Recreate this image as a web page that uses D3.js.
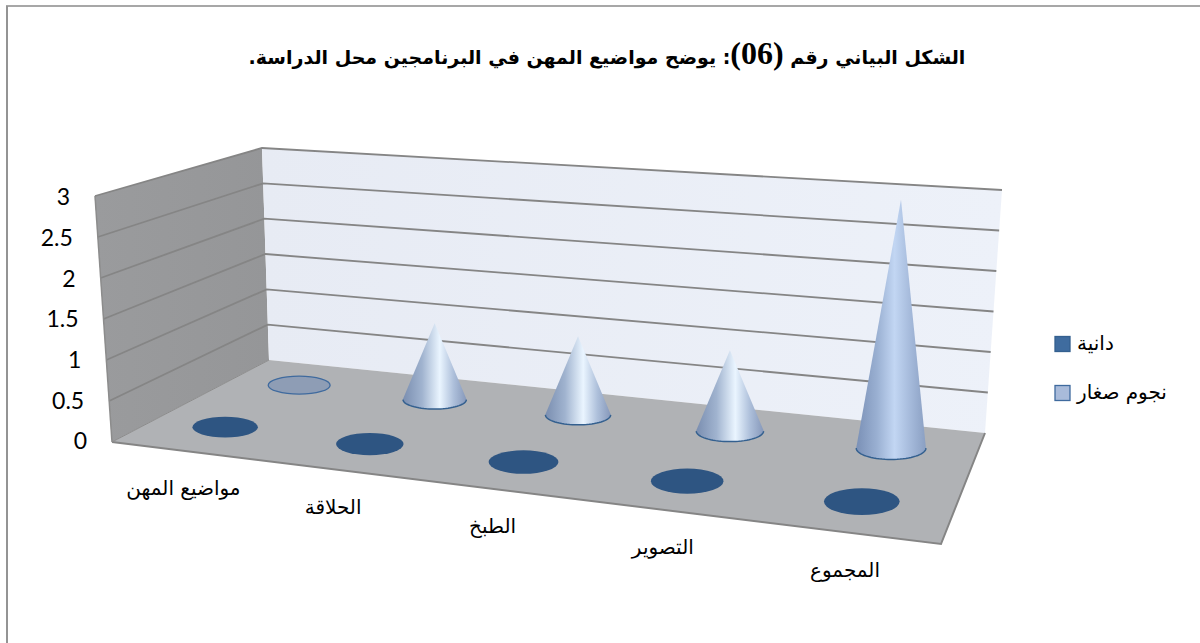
<!DOCTYPE html>
<html lang="ar">
<head>
<meta charset="utf-8">
<script src="https://cdn.jsdelivr.net/npm/d3@7"></script>
<style>
  html, body { margin: 0; padding: 0; background: #fff; }
  svg { display: block; }
</style>
</head>
<body>
<div id="chart"></div>
<script>
// chart data
const titleBefore = "الشكل البياني رقم ";
const titleNumber = "(06)";
const titleAfter = ": يوضح مواضيع المهن في البرنامجين محل الدراسة.";
const categories = ["مواضيع المهن", "الحلاقة", "الطبخ", "التصوير", "المجموع"];
const seriesNames = ["دانية", "نجوم صغار"];
const daniaValues = [0, 0, 0, 0, 0];
const starsValues = [0, 1, 1, 1, 3];
const yTicks = [0, 0.5, 1, 1.5, 2, 2.5, 3];

const width = 1200;
const height = 643;
const yMax = 3;

// corners of the 3d box on screen
const floorCorners = [[112, 442], [985, 433], [269, 360], [941, 544]]; // fl, br, bl, fr
const topCorners = [[95, 196], [1002, 190], [262, 148], [966, 262]];

const svg = d3
  .select("#chart")
  .append("svg")
  .attr("width", width)
  .attr("height", height);

// maps unit square to a screen quad
// corners order: (0,0) (1,1) (0,1) (1,0)
function makeHomography(c) {
  const [p00, p11, p01, p10] = c;
  const dx1 = p10[0] - p11[0];
  const dx2 = p01[0] - p11[0];
  const dy1 = p10[1] - p11[1];
  const dy2 = p01[1] - p11[1];
  const sx = p00[0] - p10[0] + p11[0] - p01[0];
  const sy = p00[1] - p10[1] + p11[1] - p01[1];
  const det = dx1 * dy2 - dx2 * dy1;
  const g = (sx * dy2 - dx2 * sy) / det;
  const h = (dx1 * sy - sx * dy1) / det;
  const a = p10[0] - p00[0] + g * p10[0];
  const b = p01[0] - p00[0] + h * p01[0];
  const d = p10[1] - p00[1] + g * p10[1];
  const e = p01[1] - p00[1] + h * p01[1];
  return (u, v) => {
    const w = g * u + h * v + 1;
    return [(a * u + b * v + p00[0]) / w, (d * u + e * v + p00[1]) / w];
  };
}

const floorAt = makeHomography(floorCorners);
const topAt = makeHomography(topCorners);

const xScale = d3.scaleBand().domain(categories).range([0, 1]);
const depthScale = d3.scaleBand().domain(seriesNames).range([0, 1]);
const valueScale = d3.scaleLinear().domain([0, yMax]).range([0, 1]);

// u = along categories, v = depth, value = height
function project(u, v, value) {
  const f = floorAt(u, v);
  const t = topAt(u, v);
  const k = valueScale(value);
  return [f[0] + (t[0] - f[0]) * k, f[1] + (t[1] - f[1]) * k];
}

const polyPath = (pts) => "M" + pts.map((p) => p.join(",")).join("L") + "Z";

// frame
svg.append("path")
  .attr("d", `M${width},6H6`)
  .attr("fill", "none")
  .attr("stroke", "#8a8a8a")
  .attr("stroke-width", 1.5);
svg.append("path")
  .attr("d", `M7,6V${height}`)
  .attr("fill", "none")
  .attr("stroke", "#949494")
  .attr("stroke-width", 2);

// gradients
const defs = svg.append("defs");

function addGradient(id, stops) {
  const g = defs.append("linearGradient")
    .attr("id", id)
    .attr("x1", 0).attr("x2", 1)
    .attr("y1", 0).attr("y2", 0);
  g.selectAll("stop").data(stops).enter().append("stop")
    .attr("offset", (d) => d[0])
    .attr("stop-color", (d) => d[1]);
}

addGradient("coneSmall", [[0, "#7a8eb0"], [0.3, "#a0b3cf"], [0.58, "#eaf5ff"], [0.8, "#adbfda"], [1, "#8698ba"]]);
addGradient("coneBig", [[0, "#7a90b6"], [0.3, "#9ab0d2"], [0.55, "#c2d6f3"], [0.8, "#a2b7d8"], [1, "#8a9fc2"]]);
addGradient("leftWall", [[0, "#9a9b9d"], [1, "#959698"]]);
addGradient("backWall", [[0, "#e7ebf4"], [1, "#edf1f9"]]);

// walls and floor
svg.append("path")
  .attr("d", polyPath([project(0, 0, 0), project(0, 1, 0), project(0, 1, yMax), project(0, 0, yMax)]))
  .attr("fill", "url(#leftWall)");
svg.append("path")
  .attr("d", polyPath([project(0, 1, 0), project(1, 1, 0), project(1, 1, yMax), project(0, 1, yMax)]))
  .attr("fill", "url(#backWall)");
svg.append("path")
  .attr("d", polyPath([project(0, 0, 0), project(0, 1, 0), project(1, 1, 0), project(1, 0, 0)]))
  .attr("fill", "#b0b2b5");

// gridlines on both walls
const line = d3.line();
const gridG = svg.append("g")
  .attr("fill", "none")
  .attr("stroke", "#858585")
  .attr("stroke-width", 1.8);
gridG.selectAll(".grid")
  .data(yTicks.filter((d) => d > 0))
  .enter()
  .append("path")
  .attr("class", "grid")
  .attr("d", (d) => line([project(0, 0, d), project(0, 1, d), project(1, 1, d)]));

// outline of the floor edge
svg.append("path")
  .attr("d", line([project(0, 0, 0), project(1, 0, 0), project(1, 1, 0)]))
  .attr("fill", "none")
  .attr("stroke", "#858585")
  .attr("stroke-width", 2);
svg.append("path")
  .attr("d", line([project(0, 0, 0), project(0, 1, 0)]))
  .attr("fill", "none")
  .attr("stroke", "#8c8c8c")
  .attr("stroke-width", 1);
svg.append("path")
  .attr("d", line([project(0, 0, 0), project(0, 0, yMax)]))
  .attr("fill", "none")
  .attr("stroke", "#8c8c8c")
  .attr("stroke-width", 1.5);

// y axis labels, the axis leans with the front edge of the left wall
const yLabelScale = d3.scaleLinear().domain([0, yMax]).range([442, 198]);
const yLabelX = d3.scaleLinear().domain([0, yMax]).range([87, 70]);
const yAxis = svg.append("g")
  .call(d3.axisLeft(yLabelScale).tickValues(yTicks).tickSize(0).tickPadding(0).tickFormat((d) => d));
yAxis.select(".domain").remove();
yAxis.selectAll(".tick")
  .attr("transform", (d) => `translate(${yLabelX(d)},${yLabelScale(d)})`);
yAxis.selectAll("text")
  .attr("font-family", "Lato")
  .attr("font-size", 23)
  .attr("fill", "#000");

// base size of a cone on the floor
function baseSize(u, v) {
  const du = 0.0415;
  const dv = 0.115;
  // discs stay wider on the left than the perspective alone gives
  const rx = (floorAt(u + du, v)[0] - floorAt(u - du, v)[0]) / 2 + (1 - u) * 4;
  const ry = (floorAt(u, v - dv)[1] - floorAt(u, v + dv)[1]) / 2;
  return [rx, ry];
}

const seriesList = [
  { name: seriesNames[1], values: starsValues, fill: "#8e9db5", stroke: "#3f6a9e" },
  { name: seriesNames[0], values: daniaValues, fill: "#2e5582", stroke: "none" },
];

// back series first
seriesList.forEach((s) => {
  const v = depthScale(s.name) + depthScale.bandwidth() / 2;
  const g = svg.append("g").attr("class", "series");

  const rows = categories.map((c, i) => {
    const u = xScale(c) + xScale.bandwidth() / 2;
    const [rx, ry] = baseSize(u, v);
    return { u, v, rx, ry, value: s.values[i], center: floorAt(u, v) };
  });

  // zero values only show as a flat disc
  g.selectAll("ellipse")
    .data(rows.filter((d) => d.value === 0))
    .enter()
    .append("ellipse")
    .attr("cx", (d) => d.center[0])
    .attr("cy", (d) => d.center[1])
    .attr("rx", (d) => d.rx)
    .attr("ry", (d) => d.ry)
    .attr("fill", s.fill)
    .attr("stroke", s.stroke)
    .attr("stroke-width", 1.3);

  const cones = g.selectAll(".cone")
    .data(rows.filter((d) => d.value > 0))
    .enter()
    .append("g")
    .attr("class", "cone");

  const ellipsePoint = (d, t) => [
    d.center[0] + d.rx * Math.cos(t),
    d.center[1] + d.ry * Math.sin(t),
  ];

  cones.append("path")
    .attr("d", (d) => {
      const pts = d3.range(0, 72).map((k) => ellipsePoint(d, (k / 72) * 2 * Math.PI));
      const tip = project(d.u, d.v, d.value);
      // cones do not lean left
      pts.push([Math.max(tip[0], d.center[0]), tip[1]]);
      return polyPath(d3.polygonHull(pts));
    })
    .attr("fill", (d) => (d.value > 1 ? "url(#coneBig)" : "url(#coneSmall)"));

  // dark rim along the front of the base
  cones.append("path")
    .attr("d", (d) => line(d3.range(0, 37).map((k) => ellipsePoint(d, (k / 36) * Math.PI))))
    .attr("fill", "none")
    .attr("stroke", "#34608f")
    .attr("stroke-width", 1.5);
});

// category labels under the front edge
svg.append("g")
  .selectAll("text")
  .data(categories)
  .enter()
  .append("text")
  .attr("x", (d) => floorAt(xScale(d) + xScale.bandwidth() / 2, 0)[0])
  .attr("y", (d) => floorAt(xScale(d) + xScale.bandwidth() / 2, 0)[1] + 39)
  .attr("text-anchor", "middle")
  .attr("dominant-baseline", "middle")
  .attr("font-family", "'DejaVu Sans'")
  .attr("font-size", 20)
  .attr("fill", "#000")
  .text((d) => d);

// legend
const legendColors = [
  { fill: "#3f6c9f", stroke: "#34608f" },
  { fill: "#a9bbda", stroke: "#3f6a9e" },
];
const legendY = d3.scalePoint().domain(seriesNames).range([344, 393]);
const legend = svg.append("g")
  .selectAll("g")
  .data(seriesNames)
  .enter()
  .append("g")
  .attr("transform", (d) => `translate(1055,${legendY(d)})`);
legend.append("rect")
  .attr("x", 0).attr("y", -7.5)
  .attr("width", 15).attr("height", 15)
  .attr("fill", (d, i) => legendColors[i].fill)
  .attr("stroke", (d, i) => legendColors[i].stroke)
  .attr("stroke-width", 1.3);
legend.append("text")
  .attr("x", 22)
  .attr("dominant-baseline", "middle")
  .attr("font-family", "'DejaVu Sans'")
  .attr("font-size", 20)
  .attr("fill", "#000")
  .text((d) => d);

// title
const title = svg.append("text")
  .attr("x", 607)
  .attr("y", 64)
  .attr("direction", "rtl")
  .attr("text-anchor", "middle")
  .attr("font-family", "'DejaVu Sans'")
  .attr("font-weight", "bold")
  .attr("font-size", 19)
  .attr("fill", "#000");
title.append("tspan").text(titleBefore);
title.append("tspan")
  .attr("font-family", "'Liberation Serif'")
  .attr("font-size", 32)
  .text(titleNumber);
title.append("tspan").text(titleAfter);
</script>
</body>
</html>
